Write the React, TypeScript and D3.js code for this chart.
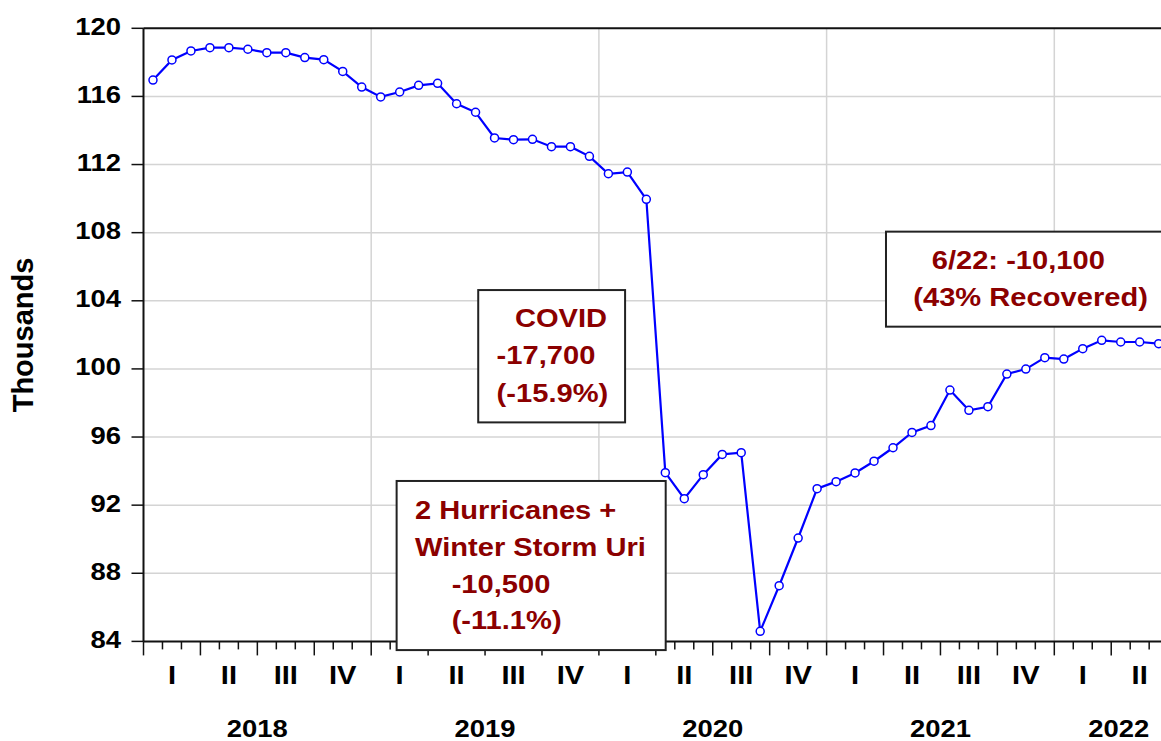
import React from "react";
import * as d3 from "d3";

// Monthly values, Jan 2018 .. Jun 2022 (thousands)
const startYear = 2018;
const values: number[] = [
  116.96, 118.14, 118.67, 118.86, 118.86, 118.77, 118.57, 118.57, 118.28, 118.16, 117.47, 116.55,
  115.97, 116.26, 116.65, 116.77, 115.57, 115.07, 113.56, 113.46, 113.48, 113.05, 113.05, 112.48,
  111.46, 111.56, 109.96, 93.91, 92.38, 93.79, 94.98, 95.08, 84.59, 87.27, 90.07, 92.97,
  93.38, 93.89, 94.58, 95.37, 96.27, 96.67, 98.76, 97.57, 97.78, 99.70, 99.99, 100.66,
  100.58, 101.19, 101.68, 101.58, 101.58, 101.48,
];
const yearLabels = ["2018", "2019", "2020", "2021", "2022"];
const quarterLabels = ["I", "II", "III", "IV"];
const yTicks = [84, 88, 92, 96, 100, 104, 108, 112, 116, 120];
const yTitle = "Thousands";

type Note = { x0: number; x1: number; top: number; bottom: number; lines: { text: string; dx: number; dy: number }[] };
const notes: Note[] = [
  {
    x0: 17.64, x1: 25.38, top: 104.63, bottom: 96.86,
    lines: [
      { text: "COVID", dx: 36.7, dy: 36.7 },
      { text: "-17,700", dx: 18.4, dy: 74.3 },
      { text: "(-15.9%)", dx: 18.4, dy: 111.7 },
    ],
  },
  {
    x0: 13.34, x1: 27.52, top: 93.42, bottom: 83.49,
    lines: [
      { text: "2 Hurricanes +", dx: 18.3, dy: 38 },
      { text: "Winter Storm Uri", dx: 18.3, dy: 74.7 },
      { text: "-10,500", dx: 55, dy: 111.7 },
      { text: "(-11.1%)", dx: 55, dy: 148.3 },
    ],
  },
  {
    x0: 39.13, x1: 55.5, top: 108.06, bottom: 102.48,
    lines: [
      { text: "6/22: -10,100", dx: 45.7, dy: 37.6 },
      { text: "(43% Recovered)", dx: 27.3, dy: 74.3 },
    ],
  },
];

const W = 1161;
const H = 741;
const FONT = "'Liberation Sans', Arial, sans-serif";
const SX = 1.12;
const noteColor = "#8b0000";

export default function App() {
  const xEnd = 54.8;
  const x = d3.scaleLinear().domain([0, xEnd]).range([143.5, 143.5 + xEnd * 18.975]);
  const y = d3.scaleLinear().domain([84, 120]).range([641.4, 28.3]);
  const pts = values.map((v, i) => [x(i + 0.5), y(v)] as [number, number]);
  const line = d3.line()(pts) || "";
  const x0 = x(0);
  const x1 = x(xEnd);
  const yb = y(84);
  const yt = y(120);

  const monthTicks = d3.range(0, Math.floor(xEnd) + 1);
  const nYears = yearLabels.length;

  return (
    <svg
      width={W}
      height={H}
      style={{ position: "absolute", left: 0, top: 0, background: "#fff" }}
      fontFamily={FONT}
      fontWeight="bold"
    >
      <rect x={0} y={0} width={W} height={H} fill="#fff" />
      {/* gridlines */}
      {yTicks.filter((v) => v > 84 && v < 120).map((v) => (
        <line key={"gy" + v} x1={x0} x2={x1} y1={y(v)} y2={y(v)} stroke="#d4d4d4" strokeWidth={1.5} />
      ))}
      {d3.range(1, nYears).map((k) => (
        <line key={"gx" + k} x1={x(k * 12)} x2={x(k * 12)} y1={yt} y2={yb} stroke="#d4d4d4" strokeWidth={1.5} />
      ))}
      {/* frame */}
      <line x1={x0} x2={x1} y1={yt} y2={yt} stroke="#111" strokeWidth={2} />
      <line x1={x0} x2={x1} y1={yb} y2={yb} stroke="#111" strokeWidth={2} />
      <line x1={x0} x2={x0} y1={yt} y2={yb} stroke="#111" strokeWidth={2} />
      {/* y ticks */}
      {yTicks.map((v) => (
        <g key={"yt" + v}>
          <line x1={x0 - 12} x2={x0} y1={y(v)} y2={y(v)} stroke="#111" strokeWidth={1.5} />
          <text
            transform={`translate(121,${y(v) + 6.5}) scale(${SX},1)`}
            textAnchor="end"
            fontSize={24.5}
            fill="#000"
          >
            {v}
          </text>
        </g>
      ))}
      <text transform={`translate(33,335) rotate(-90)`} textAnchor="middle" fontSize={29} fill="#000">
        {yTitle}
      </text>
      {/* x ticks */}
      {monthTicks.map((m) => (
        <line
          key={"xt" + m}
          x1={x(m)}
          x2={x(m)}
          y1={yb}
          y2={yb + (m % 3 === 0 ? 14 : 8)}
          stroke="#111"
          strokeWidth={1.5}
        />
      ))}
      {yearLabels.map((yl, yi) =>
        quarterLabels.map((q, qi) => {
          const c = yi * 12 + qi * 3 + 1.5;
          if (c > xEnd) return null;
          return (
            <text
              key={yl + q}
              transform={`translate(${x(c)},684) scale(${SX},1)`}
              textAnchor="middle"
              fontSize={26}
              fill="#000"
            >
              {q}
            </text>
          );
        })
      )}
      {yearLabels.map((yl, yi) => {
        const a = yi * 12;
        const b = Math.min(a + 12, xEnd);
        return (
          <text
            key={"yl" + yl}
            transform={`translate(${x((a + b) / 2)},736.5) scale(${SX},1)`}
            textAnchor="middle"
            fontSize={24.5}
            fill="#000"
          >
            {yl}
          </text>
        );
      })}
      {/* series */}
      <path d={line} fill="none" stroke="#0000ff" strokeWidth={2.2} />
      {pts.map((p, i) => (
        <circle key={"c" + i} cx={p[0]} cy={p[1]} r={4} fill="#fff" stroke="#0000ff" strokeWidth={1.5} />
      ))}
      {/* annotations */}
      {notes.map((n, ni) => {
        const bx = x(n.x0);
        const by = y(n.top);
        return (
          <g key={"n" + ni}>
            <rect
              x={bx}
              y={by}
              width={x(n.x1) - bx}
              height={y(n.bottom) - by}
              fill="#fff"
              stroke="#222"
              strokeWidth={2}
            />
            {n.lines.map((l, li) => (
              <text
                key={li}
                transform={`translate(${bx + l.dx},${by + l.dy}) scale(${SX},1)`}
                fontSize={26}
                fill={noteColor}
              >
                {l.text}
              </text>
            ))}
          </g>
        );
      })}
    </svg>
  );
}
